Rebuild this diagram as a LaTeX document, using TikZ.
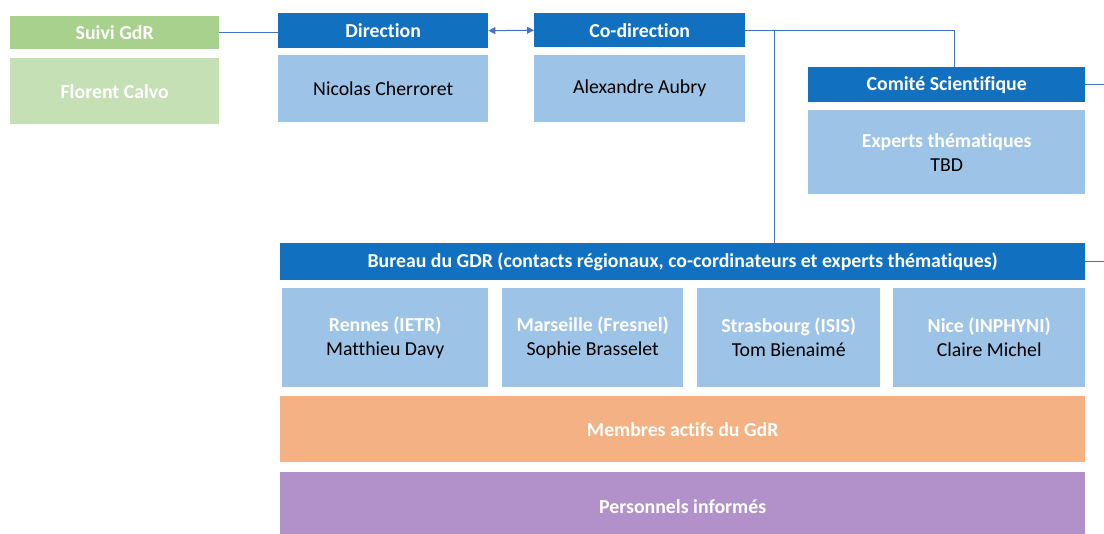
\documentclass[tikz,border=0pt]{standalone}
\usepackage{fontspec}
\setmainfont{Carlito}[Ligatures = NoCommon]
\usetikzlibrary{arrows.meta}

\definecolor{headblue}{HTML}{1170C0}
\definecolor{paleblue}{HTML}{9DC3E6}
\definecolor{headgreen}{HTML}{A9D18E}
\definecolor{palegreen}{HTML}{C5E0B4}
\definecolor{peach}{HTML}{F4B183}
\definecolor{lilac}{HTML}{B291CB}
\definecolor{linkblue}{HTML}{4472C4}

\newcommand{\wb}[1]{\textcolor{white}{\bfseries #1}}

\begin{document}
\begin{tikzpicture}[x = 1pt, y = -1pt, >= {Triangle[length=7pt, width=7pt]},
    box/.style = {anchor = north west, inner sep = 0pt, align = center, font = \fontsize{19.8}{24}\selectfont},
    head/.style = {box, fill = headblue, text = white, font = \fontsize{19.8}{24}\selectfont\bfseries},
    body/.style = {box, fill = paleblue},
    link/.style = {draw = linkblue, line width = 1pt}]

    \clip (0, 0) rectangle (1104, 534);

    \node [head, fill = headgreen, minimum width = 209pt, minimum height = 33pt] (suivi) at (10, 16) {Suivi GdR};
    \node [body, fill = palegreen, minimum width = 209pt, minimum height = 66pt] (calvo) at (10, 58) {\wb{Florent Calvo}};

    \node [head, minimum width = 210pt, minimum height = 35pt] (dir) at (278, 13) {Direction};
    \node [body, minimum width = 210pt, minimum height = 67pt] (cherroret) at (278, 55) {Nicolas Cherroret};

    \node [head, minimum width = 211pt, minimum height = 34pt] (codir) at (534, 13) {Co-direction};
    \node [body, minimum width = 211pt, minimum height = 67pt] (aubry) at (534, 55) {Alexandre Aubry};

    \node [head, minimum width = 277pt, minimum height = 35pt] (comite) at (808, 67) {Comité Scientifique};
    \node [body, minimum width = 277pt, minimum height = 84pt] (experts) at (808, 110) {\wb{Experts thématiques}\\TBD};

    %%%%%%%%%%%%%%%%%%%%
    \node [head, minimum width = 805pt, minimum height = 37pt] (bureau) at (280, 243) {Bureau du GDR (contacts régionaux, co-cordinateurs et experts thématiques)};

    \node [body, minimum width = 206pt, minimum height = 99pt] (rennes) at (282, 288) {\wb{Rennes (IETR)}\\Matthieu Davy};
    \node [body, minimum width = 181pt, minimum height = 99pt] (marseille) at (502, 288) {\wb{Marseille (Fresnel)}\\Sophie Brasselet};
    \node [body, minimum width = 183pt, minimum height = 99pt] (strasbourg) at (697, 288) {\wb{Strasbourg (ISIS)}\\Tom Bienaimé};
    \node [body, minimum width = 192pt, minimum height = 99pt] (nice) at (893, 288) {\wb{Nice (INPHYNI)}\\Claire Michel};

    \node [body, fill = peach, minimum width = 805pt, minimum height = 66pt] (membres) at (280, 396) {\wb{Membres actifs du GdR}};
    \node [body, fill = lilac, minimum width = 805pt, minimum height = 68pt] (personnels) at (280, 472) {\wb{Personnels informés}};

    %%%%%%%%%%%%%%%%%%%%
    \coordinate (split) at (774, 30);
    \coordinate (rim) at (1104, 0);

    \draw [link] (suivi.east) -- (suivi.east -| dir.west);
    \draw [link, <->] (dir.east) -- (codir.west);
    \draw [link] (codir.east) -| ([xshift = 8pt]comite.north);
    \draw [link] (split) -- (split |- bureau.north);
    \draw [link] (comite.east) -- (comite.east -| rim);
    \draw [link] (bureau.east) -- (bureau.east -| rim);
\end{tikzpicture}
\end{document}
